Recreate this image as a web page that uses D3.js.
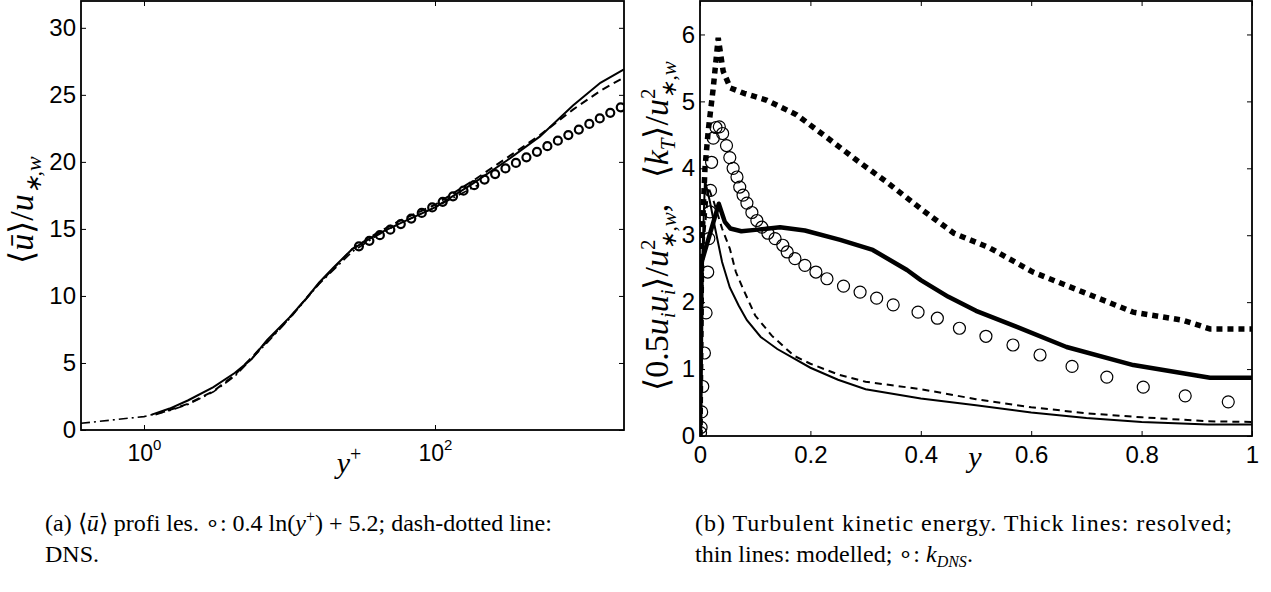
<!DOCTYPE html>
<html>
<head>
<meta charset="utf-8">
<script src="https://cdnjs.cloudflare.com/ajax/libs/d3/7.8.5/d3.min.js"></script>
<style>
body { margin: 0; background: #fff; }
</style>
</head>
<body>
<svg id="fig" width="1271" height="592"></svg>
<script>
// (a) mean velocity profiles, y+ on a log axis
var uTicks = [0, 5, 10, 15, 20, 25, 30];
var yPlusTicks = [1, 100];
var yPlusExp = ['0', '2'];

var lesYp = [1.13, 1.5, 2, 3, 4.2, 5.5, 7, 10, 13, 16, 20, 27, 40, 57, 100, 183, 312, 527, 888, 1370, 1990];
var lesU = [1.15, 1.6, 2.2, 3.2, 4.25, 5.3, 6.7, 8.4, 9.8, 11.0, 12.1, 13.5, 14.6, 15.4, 16.6, 18.4, 20.1, 21.9, 24.2, 25.9, 26.9];

var les2Yp = [1.2, 2, 3, 4.2, 7, 10, 16, 27, 40, 57, 100, 183, 312, 527, 888, 1370, 1990];
var les2U = [1.15, 1.95, 2.9, 4.1, 6.6, 8.35, 10.95, 13.5, 14.7, 15.6, 16.8, 18.6, 20.3, 22.0, 23.9, 25.3, 26.3];

var dnsYp = [0.369, 1, 1.5, 2, 3, 4.2, 7, 10, 16, 27, 40, 57, 100, 150, 200];
var dnsU = [0.5, 1.0, 1.45, 1.9, 2.85, 4.0, 6.5, 8.3, 10.9, 13.3, 14.5, 15.4, 16.6, 17.6, 18.3];

var logLawYp = [30, 35.4, 41.8, 49.3, 58.2, 68.7, 81.1, 95.7, 113, 133, 157, 186, 219, 259, 305, 360, 425, 502, 592, 699, 825, 974, 1150, 1357, 1602, 1891];
var logLawU = [13.70, 14.11, 14.53, 14.94, 15.36, 15.77, 16.19, 16.60, 17.02, 17.43, 17.85, 18.26, 18.68, 19.09, 19.51, 19.92, 20.34, 20.75, 21.17, 21.58, 22.00, 22.41, 22.83, 23.24, 23.66, 24.07];

// (b) turbulent kinetic energy across the channel
var kTicks = [0, 1, 2, 3, 4, 5, 6];
var yTicks = [0, 0.2, 0.4, 0.6, 0.8, 1];

var resAY = [0, 0.003, 0.034, 0.045, 0.055, 0.075, 0.1, 0.145, 0.19, 0.254, 0.313, 0.375, 0.4, 0.45, 0.5, 0.574, 0.664, 0.785, 0.924, 1];
var resAK = [0, 2.6, 3.47, 3.2, 3.1, 3.06, 3.08, 3.12, 3.07, 2.93, 2.78, 2.48, 2.33, 2.08, 1.87, 1.63, 1.33, 1.06, 0.87, 0.87];

var resBY = [0, 0.003, 0.009, 0.015, 0.024, 0.033, 0.042, 0.055, 0.08, 0.12, 0.175, 0.23, 0.284, 0.339, 0.404, 0.46, 0.525, 0.603, 0.694, 0.785, 0.875, 0.924, 1];
var resBK = [0, 2.8, 4.0, 4.57, 5.2, 5.95, 5.45, 5.2, 5.12, 5.02, 4.8, 4.46, 4.12, 3.79, 3.37, 3.03, 2.81, 2.45, 2.15, 1.85, 1.73, 1.6, 1.6];

var modAY = [0, 0.004, 0.009, 0.018, 0.027, 0.04, 0.054, 0.07, 0.085, 0.11, 0.14, 0.2, 0.25, 0.3, 0.4, 0.5, 0.6, 0.7, 0.8, 0.92, 1];
var modAK = [0, 2.6, 3.82, 3.5, 3.12, 2.6, 2.22, 1.95, 1.73, 1.48, 1.3, 1.02, 0.84, 0.7, 0.56, 0.46, 0.35, 0.27, 0.21, 0.17, 0.17];

var modBY = [0, 0.006, 0.015, 0.025, 0.04, 0.054, 0.065, 0.078, 0.1, 0.13, 0.17, 0.2, 0.25, 0.3, 0.4, 0.5, 0.6, 0.7, 0.8, 0.92, 1];
var modBK = [0, 2.8, 3.72, 3.5, 3.1, 2.8, 2.45, 2.2, 1.8, 1.5, 1.2, 1.08, 0.92, 0.81, 0.7, 0.55, 0.43, 0.34, 0.28, 0.22, 0.21];

var kDnsY = [0.001, 0.002, 0.003, 0.005, 0.008, 0.011, 0.014, 0.016, 0.018, 0.019, 0.021, 0.024, 0.029, 0.035, 0.041, 0.048, 0.054, 0.06, 0.067, 0.072, 0.078, 0.085, 0.094, 0.103, 0.112, 0.123, 0.136, 0.15, 0.158, 0.172, 0.19, 0.21, 0.23, 0.26, 0.29, 0.32, 0.35, 0.395, 0.43, 0.47, 0.518, 0.567, 0.616, 0.674, 0.737, 0.803, 0.879, 0.957];
var kDnsK = [0.05, 0.13, 0.36, 0.74, 1.24, 1.84, 2.45, 2.95, 3.35, 3.67, 4.09, 4.45, 4.61, 4.62, 4.52, 4.34, 4.16, 4.0, 3.87, 3.72, 3.6, 3.48, 3.34, 3.22, 3.12, 3.03, 2.95, 2.85, 2.75, 2.65, 2.55, 2.45, 2.35, 2.24, 2.15, 2.06, 1.96, 1.85, 1.76, 1.61, 1.49, 1.36, 1.21, 1.04, 0.88, 0.73, 0.6, 0.51];

var svg = d3.select('#fig');
var tickFont = 'Liberation Sans, Arial, sans-serif';
var mathFont = 'Liberation Serif, Times New Roman, serif';

function pairs(xs, ys) {
  return xs.map(function(v, i) { return [v, ys[i]]; });
}

// write a run of pieces into a text element: {t, i: italic, dy, dx, fs}
function rich(text, parts) {
  parts.forEach(function(p) {
    var s = text.append('tspan').text(p.t);
    if (p.i) s.attr('font-style', 'italic');
    if (p.dy) s.attr('dy', p.dy);
    if (p.dx) s.attr('dx', p.dx);
    if (p.fs) s.attr('font-size', p.fs);
  });
  return text;
}

function panel(id, x, y, xt, yt, xPad, yPad) {
  var x0 = x.range()[0], x1 = x.range()[1], y0 = y.range()[1], y1 = y.range()[0];
  var g = svg.append('g');
  g.append('clipPath').attr('id', id).append('rect')
    .attr('x', x0).attr('y', y0).attr('width', x1 - x0).attr('height', y1 - y0);

  var bottom = g.append('g').attr('transform', 'translate(0,' + y1 + ')')
    .call(d3.axisBottom(x).tickValues(xt).tickSize(-5).tickPadding(xPad).tickFormat(String));
  var left = g.append('g').attr('transform', 'translate(' + x0 + ',0)')
    .call(d3.axisLeft(y).tickValues(yt).tickSize(-5).tickPadding(yPad).tickFormat(String));
  g.append('g').attr('transform', 'translate(0,' + y0 + ')')
    .call(d3.axisTop(x).tickValues(xt).tickSize(-5).tickFormat(''));
  g.append('g').attr('transform', 'translate(' + x1 + ',0)')
    .call(d3.axisRight(y).tickValues(yt).tickSize(-5).tickFormat(''));

  g.selectAll('.domain').remove();
  g.selectAll('.tick line').attr('stroke', '#000').attr('stroke-width', 1);
  g.selectAll('.tick text').attr('fill', '#000');
  [bottom, left].forEach(function(a) {
    a.attr('font-size', 24).attr('font-family', tickFont);
  });

  g.append('rect')
    .attr('x', x0).attr('y', y0).attr('width', x1 - x0).attr('height', y1 - y0)
    .attr('fill', 'none').attr('stroke', '#000').attr('stroke-width', 1.8);

  return { g: g, bottom: bottom, plot: g.append('g').attr('clip-path', 'url(#' + id + ')') };
}

// ---- panel (a)
var xL = d3.scaleLog().domain([0.369, 1991]).range([81, 624]);
var yL = d3.scaleLinear().domain([0, 32]).range([430, 1]);
var pa = panel('clipA', xL, yL, yPlusTicks, uTicks, 15, 5);

pa.bottom.selectAll('.tick text').each(function(d, i) {
  var t = d3.select(this).text('10').attr('font-size', 23);
  t.append('tspan').attr('dy', -11).attr('font-size', 15).text(yPlusExp[i]);
});

var lineL = d3.line().x(function(d) { return xL(d[0]); }).y(function(d) { return yL(d[1]); });

pa.plot.append('path').datum(pairs(dnsYp, dnsU)).attr('d', lineL)
  .attr('fill', 'none').attr('stroke', '#000').attr('stroke-width', 1.6)
  .attr('stroke-dasharray', '9,4,2,4');
pa.plot.append('path').datum(pairs(les2Yp, les2U)).attr('d', lineL)
  .attr('fill', 'none').attr('stroke', '#000').attr('stroke-width', 2)
  .attr('stroke-dasharray', '8,5');
pa.plot.append('path').datum(pairs(lesYp, lesU)).attr('d', lineL)
  .attr('fill', 'none').attr('stroke', '#000').attr('stroke-width', 2);
pa.plot.selectAll('circle.law').data(pairs(logLawYp, logLawU)).enter()
  .append('circle').attr('class', 'law')
  .attr('cx', function(d) { return xL(d[0]); })
  .attr('cy', function(d) { return yL(d[1]); })
  .attr('r', 4).attr('fill', 'none').attr('stroke', '#000').attr('stroke-width', 2.2);

// ---- panel (b)
var xR = d3.scaleLinear().domain([0, 1]).range([700, 1252]);
var yR = d3.scaleLinear().domain([0, 6.5]).range([436, 1]);
var pb = panel('clipB', xR, yR, yTicks, kTicks, 10, 5);

var lineR = d3.line().x(function(d) { return xR(d[0]); }).y(function(d) { return yR(d[1]); });

pb.plot.append('path').datum(pairs(modAY, modAK)).attr('d', lineR)
  .attr('fill', 'none').attr('stroke', '#000').attr('stroke-width', 2);
pb.plot.append('path').datum(pairs(modBY, modBK)).attr('d', lineR)
  .attr('fill', 'none').attr('stroke', '#000').attr('stroke-width', 2)
  .attr('stroke-dasharray', '7,5');
pb.plot.selectAll('circle.dns').data(pairs(kDnsY, kDnsK)).enter()
  .append('circle').attr('class', 'dns')
  .attr('cx', function(d) { return xR(d[0]); })
  .attr('cy', function(d) { return yR(d[1]); })
  .attr('r', 6).attr('fill', 'none').attr('stroke', '#000').attr('stroke-width', 1.2);
pb.plot.append('path').datum(pairs(resBY, resBK)).attr('d', lineR)
  .attr('fill', 'none').attr('stroke', '#000').attr('stroke-width', 5.5)
  .attr('stroke-dasharray', '6,5');
pb.plot.append('path').datum(pairs(resAY, resAK)).attr('d', lineR)
  .attr('fill', 'none').attr('stroke', '#000').attr('stroke-width', 4.5)
  .attr('stroke-linejoin', 'round');

// ---- axis labels
rich(svg.append('text').attr('transform', 'translate(33,210) rotate(-90)')
  .attr('text-anchor', 'middle').attr('font-family', mathFont).attr('font-size', 34), [
  { t: '\u27E8' }, { t: '\u016B', i: 1 }, { t: '\u27E9/' }, { t: 'u', i: 1 },
  { t: '\u2217,w', i: 1, dy: 8, fs: 22 }
]);

rich(svg.append('text').attr('transform', 'translate(668,226) rotate(-90)')
  .attr('text-anchor', 'middle').attr('font-family', mathFont).attr('font-size', 34), [
  { t: '\u27E80.5' }, { t: 'u', i: 1 }, { t: 'i', i: 1, dy: 7, fs: 21 },
  { t: 'u', i: 1, dy: -7 }, { t: 'i', i: 1, dy: 7, fs: 21 },
  { t: '\u27E9/', dy: -7 }, { t: 'u', i: 1 },
  { t: '2', dy: -13, fs: 21 }, { t: '\u2217,w', i: 1, dx: -10, dy: 21, fs: 21 },
  { t: ',\u2002 \u27E8', dy: -8 }, { t: 'k', i: 1 }, { t: 'T', i: 1, dy: 7, fs: 21 },
  { t: '\u27E9/', dy: -7 }, { t: 'u', i: 1 },
  { t: '2', dy: -13, fs: 21 }, { t: '\u2217,w', i: 1, dx: -10, dy: 21, fs: 21 }
]);

rich(svg.append('text').attr('x', 349).attr('y', 473).attr('text-anchor', 'middle')
  .attr('font-family', mathFont).attr('font-size', 30), [
  { t: 'y', i: 1 }, { t: '+', dy: -12, fs: 20 }
]);
rich(svg.append('text').attr('x', 975).attr('y', 467).attr('text-anchor', 'middle')
  .attr('font-family', mathFont).attr('font-size', 30), [
  { t: 'y', i: 1 }
]);

// ---- captions
var capA = svg.append('text').attr('x', 45).attr('y', 531)
  .attr('font-family', mathFont).attr('font-size', 24);
rich(capA, [
  { t: '(a) \u27E8' }, { t: '\u016B', i: 1 }, { t: '\u27E9 profi les. \u2218: 0.4 ln(' },
  { t: 'y', i: 1 }, { t: '+', dy: -9, fs: 16 }, { t: ') + 5.2; dash-dotted line:', dy: 9 }
]);
svg.append('text').attr('x', 45).attr('y', 562)
  .attr('font-family', mathFont).attr('font-size', 24).text('DNS.');

svg.append('text').attr('x', 695).attr('y', 531)
  .attr('font-family', mathFont).attr('font-size', 24)
  .attr('textLength', 537).attr('lengthAdjust', 'spacing')
  .text('(b) Turbulent kinetic energy.  Thick lines:  resolved;');
rich(svg.append('text').attr('x', 695).attr('y', 562)
  .attr('font-family', mathFont).attr('font-size', 24), [
  { t: 'thin lines: modelled; \u2218: ' }, { t: 'k', i: 1 },
  { t: 'DNS', i: 1, dy: 5, fs: 16 }, { t: '.', dy: -5 }
]);
</script>
</body>
</html>
